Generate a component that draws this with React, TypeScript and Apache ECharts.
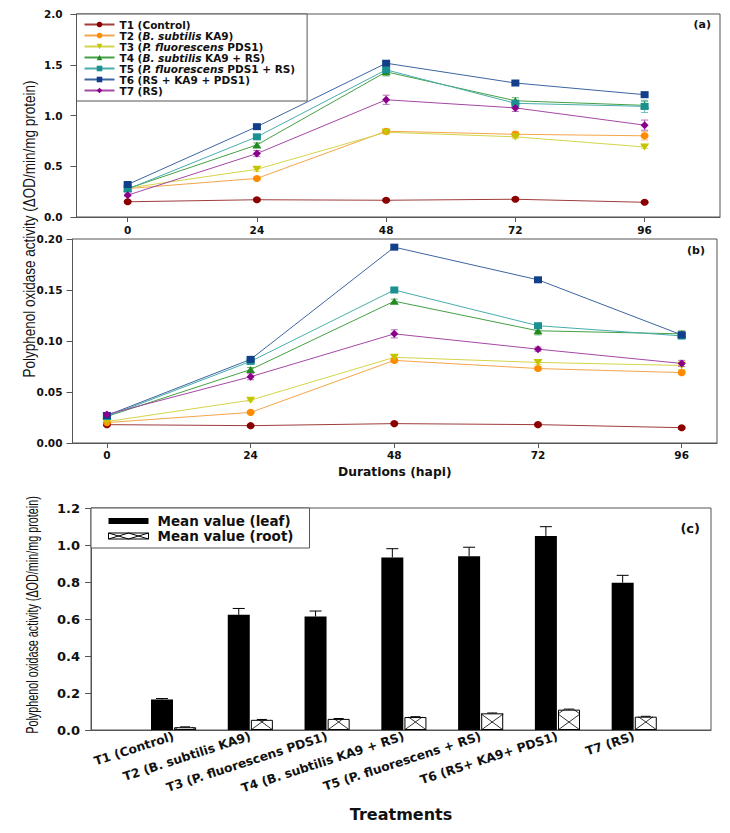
import React, { useEffect, useRef } from 'react';
import * as echarts from 'echarts';

const HOURS = [0, 24, 48, 72, 96];
const TREATMENTS = [
  'T1 (Control)',
  'T2 (B. subtilis KA9)',
  'T3 (P. fluorescens PDS1)',
  'T4 (B. subtilis KA9 + RS)',
  'T5 (P. fluorescens PDS1 + RS)',
  'T6 (RS + KA9 + PDS1)',
  'T7 (RS)',
];
const TREATMENT_RICH = [
  'T1 (Control)',
  'T2 ({i|B. subtilis} KA9)',
  'T3 ({i|P. fluorescens} PDS1)',
  'T4 ({i|B. subtilis} KA9 + RS)',
  'T5 ({i|P. fluorescens} PDS1 + RS)',
  'T6 (RS + KA9 + PDS1)',
  'T7 (RS)',
];

// Panel (a)
const A_T1 = [0.15, 0.17, 0.165, 0.175, 0.145];
const A_T2 = [0.28, 0.38, 0.845, 0.815, 0.8];
const A_T3 = [0.285, 0.47, 0.835, 0.79, 0.69];
const A_T4 = [0.28, 0.71, 1.43, 1.145, 1.1];
const A_T5 = [0.275, 0.79, 1.45, 1.12, 1.09];
const A_T6 = [0.32, 0.89, 1.515, 1.32, 1.205];
const A_T7 = [0.215, 0.625, 1.155, 1.075, 0.905];
const A_ERR_T1 = [0.01, 0.01, 0.01, 0.01, 0.01];
const A_ERR_T2 = [0.01, 0.015, 0.02, 0.03, 0.04];
const A_ERR_T3 = [0.01, 0.02, 0.02, 0.02, 0.015];
const A_ERR_T4 = [0.01, 0.02, 0.04, 0.03, 0.04];
const A_ERR_T5 = [0.015, 0.02, 0.045, 0.03, 0.06];
const A_ERR_T6 = [0.015, 0.01, 0.015, 0.015, 0.025];
const A_ERR_T7 = [0.01, 0.03, 0.045, 0.035, 0.05];

// Panel (b)
const B_T1 = [0.018, 0.017, 0.019, 0.018, 0.015];
const B_T2 = [0.02, 0.03, 0.081, 0.073, 0.069];
const B_T3 = [0.021, 0.042, 0.084, 0.079, 0.076];
const B_T4 = [0.026, 0.072, 0.139, 0.11, 0.107];
const B_T5 = [0.026, 0.08, 0.15, 0.115, 0.105];
const B_T6 = [0.027, 0.082, 0.192, 0.16, 0.106];
const B_T7 = [0.028, 0.065, 0.107, 0.092, 0.078];
const B_ERR_T1 = [0.001, 0.001, 0.001, 0.001, 0.001];
const B_ERR_T2 = [0.001, 0.001, 0.002, 0.002, 0.002];
const B_ERR_T3 = [0.001, 0.001, 0.002, 0.002, 0.004];
const B_ERR_T4 = [0.001, 0.002, 0.002, 0.004, 0.003];
const B_ERR_T5 = [0.001, 0.002, 0.002, 0.002, 0.003];
const B_ERR_T6 = [0.002, 0.002, 0.002, 0.002, 0.003];
const B_ERR_T7 = [0.001, 0.003, 0.004, 0.002, 0.003];

// Panel (c)
const BAR_CATEGORIES = [
  'T1 (Control)',
  'T2 (B. subtilis KA9)',
  'T3 (P. fluorescens PDS1)',
  'T4 (B. subtilis KA9 + RS)',
  'T5 (P. fluorescens + RS)',
  'T6 (RS+ KA9+ PDS1)',
  'T7 (RS)',
];
const BAR_POS = [1, 2, 3, 4, 5, 6, 7];
const LEAF_MEAN = [0.165, 0.623, 0.613, 0.933, 0.939, 1.049, 0.796];
const LEAF_ERR = [0.005, 0.034, 0.03, 0.047, 0.049, 0.05, 0.04];
const ROOT_MEAN = [0.015, 0.055, 0.06, 0.07, 0.09, 0.11, 0.072];
const ROOT_ERR = [0.002, 0.002, 0.002, 0.002, 0.002, 0.003, 0.002];

const MARK = ['#8b0000', '#ff8c00', '#c4c400', '#228b22', '#1a9090', '#123f8a', '#8b008b'];
const LINE = ['#a03c3c', '#f4a64a', '#d4d44a', '#45a045', '#4aacac', '#3c66a0', '#a448a4'];
const SYMBOLS = ['circle', 'circle', 'triangle', 'triangle', 'rect', 'rect', 'diamond'];
const SYM_ROT = [0, 0, 180, 0, 0, 0, 0];

const FB = 'DejaVu Sans';
const FR = 'Liberation Sans';
const AXC = '#555';

export default function App() {
  const ref = useRef<HTMLDivElement>(null);
  useEffect(() => {
    document.body.style.margin = '0';
    if (!ref.current) return;
    const chart = echarts.init(ref.current, null, { renderer: 'svg', width: 730, height: 833 });

    const A = [A_T1, A_T2, A_T3, A_T4, A_T5, A_T6, A_T7];
    const AE = [A_ERR_T1, A_ERR_T2, A_ERR_T3, A_ERR_T4, A_ERR_T5, A_ERR_T6, A_ERR_T7];
    const B = [B_T1, B_T2, B_T3, B_T4, B_T5, B_T6, B_T7];
    const BE = [B_ERR_T1, B_ERR_T2, B_ERR_T3, B_ERR_T4, B_ERR_T5, B_ERR_T6, B_ERR_T7];

    const lineSeries = (vals: number[][], idx: number) =>
      vals.map((v, i) => ({
        type: 'line',
        name: TREATMENTS[i],
        xAxisIndex: idx,
        yAxisIndex: idx,
        data: HOURS.map((h, j) => [h, v[j]]),
        symbol: SYMBOLS[i],
        symbolRotate: SYM_ROT[i],
        symbolSize: SYMBOLS[i] === 'triangle' ? [9, 7] : SYMBOLS[i] === 'diamond' ? [8, 8] : [8, 7],
        itemStyle: { color: MARK[i] },
        lineStyle: { color: LINE[i], width: 1 },
        emphasis: { disabled: true },
        z: 3,
      }));

    const errData = (vals: number[][], errs: number[][]) => {
      const out: number[][] = [];
      vals.forEach((v, i) => v.forEach((y, j) => out.push([HOURS[j], y, errs[i][j], i])));
      return out;
    };

    const errRender = (params: any, api: any) => {
      const x = api.value(0);
      const y = api.value(1);
      const e = api.value(2);
      const ci = api.value(3);
      const p1 = api.coord([x, y + e]);
      const p2 = api.coord([x, y - e]);
      const w = 3.5;
      const style = { stroke: LINE[ci], lineWidth: 1, opacity: 0.8 };
      return {
        type: 'group',
        children: [
          { type: 'line', shape: { x1: p1[0], y1: p1[1], x2: p2[0], y2: p2[1] }, style },
          { type: 'line', shape: { x1: p1[0] - w, y1: p1[1], x2: p1[0] + w, y2: p1[1] }, style },
          { type: 'line', shape: { x1: p2[0] - w, y1: p2[1], x2: p2[0] + w, y2: p2[1] }, style },
        ],
      };
    };

    const BW = 22;
    const GAP = 0.05;
    const half = (BW * 2 + BW * GAP) / 2;

    const barErrRender = (side: number) => (params: any, api: any) => {
      const k = api.value(0);
      const v = api.value(1);
      const e = api.value(2);
      const pTop = api.coord([k, v + e]);
      const pBar = api.coord([k, v]);
      const cx = side < 0 ? pBar[0] - half + BW / 2 : pBar[0] + half - BW / 2;
      const w = side < 0 ? 6 : 5;
      const style = { stroke: '#000', lineWidth: 1 };
      return {
        type: 'group',
        children: [
          { type: 'line', shape: { x1: cx, y1: pBar[1], x2: cx, y2: pTop[1] }, style },
          { type: 'line', shape: { x1: cx - w, y1: pTop[1], x2: cx + w, y2: pTop[1] }, style },
        ],
      };
    };

    const hatchRender = (params: any, api: any) => {
      const k = api.value(0);
      const v = api.value(1);
      const base = api.coord([k, 0]);
      const top = api.coord([k, v]);
      const x0 = base[0] + half - BW;
      const x1 = x0 + BW;
      const yb = base[1];
      const yt = top[1];
      const H = 16;
      const style = { stroke: '#000', lineWidth: 0.8 };
      const clip = (xa: number, ya: number, xc: number, yc: number) => {
        if (yc < yt) {
          const t = (ya - yt) / (ya - yc);
          xc = xa + (xc - xa) * t;
          yc = yt;
        }
        return { x1: xa, y1: ya, x2: xc, y2: yc };
      };
      const children: any[] = [];
      for (let r = 0; yb - r * H > yt + 0.5; r++) {
        const ya = yb - r * H;
        const yc = ya - H;
        children.push({ type: 'line', shape: clip(x0, ya, x1, yc), style });
        children.push({ type: 'line', shape: clip(x1, ya, x0, yc), style });
      }
      return { type: 'group', children };
    };

    const tickLabel = { fontFamily: FB, fontWeight: 'bold', fontSize: 10.5, color: '#111' };
    const tickLabelC = { fontFamily: FB, fontWeight: 'bold', fontSize: 13, color: '#111' };
    const axLine = { show: true, onZero: false, lineStyle: { color: AXC } };

    const option: any = {
      animation: false,
      grid: [
        { left: 76.5, top: 14, width: 643.5, height: 203, show: true, borderColor: AXC, borderWidth: 1 },
        { left: 72.5, top: 239, width: 644.5, height: 204, show: true, borderColor: AXC, borderWidth: 1 },
        { left: 91, top: 508, width: 620, height: 222, show: true, borderColor: AXC, borderWidth: 1 },
      ],
      xAxis: [
        {
          gridIndex: 0, type: 'value', min: -9.5, max: 110,
          axisLine: axLine,
          axisTick: { customValues: HOURS, length: 5, lineStyle: { color: AXC } },
          axisLabel: { customValues: HOURS, margin: 7, ...tickLabel },
          splitLine: { show: false },
        },
        {
          gridIndex: 1, type: 'value', min: -5.75, max: 101.9,
          axisLine: axLine,
          axisTick: { customValues: HOURS, length: 5, lineStyle: { color: AXC } },
          axisLabel: { customValues: HOURS, margin: 6, ...tickLabel },
          splitLine: { show: false },
          name: 'Durations (hapi)', nameLocation: 'middle', nameGap: 23,
          nameTextStyle: { fontFamily: FB, fontWeight: 'bold', fontSize: 12.3, color: '#111' },
        },
        {
          gridIndex: 2, type: 'value', min: -0.075, max: 8,
          axisLine: axLine,
          axisTick: { show: false },
          axisLabel: {
            customValues: BAR_POS, rotate: 18, margin: 6, ...tickLabelC, fontSize: 12.3,
            formatter: (v: number) => BAR_CATEGORIES[Math.round(v) - 1] || '',
          },
          splitLine: { show: false },
          name: 'Treatments', nameLocation: 'middle', nameGap: 76,
          nameTextStyle: { fontFamily: FB, fontWeight: 'bold', fontSize: 16, color: '#111' },
        },
      ],
      yAxis: [
        {
          gridIndex: 0, type: 'value', min: 0, max: 2, interval: 0.5,
          axisLine: axLine,
          axisTick: { show: true, length: 6, lineStyle: { color: AXC } },
          axisLabel: { margin: 14, formatter: (v: number) => v.toFixed(1), ...tickLabel },
          splitLine: { show: false },
        },
        {
          gridIndex: 1, type: 'value', min: 0, max: 0.2, interval: 0.05,
          axisLine: axLine,
          axisTick: { show: true, length: 6, lineStyle: { color: AXC } },
          axisLabel: { margin: 10, formatter: (v: number) => v.toFixed(2), ...tickLabel },
          splitLine: { show: false },
        },
        {
          gridIndex: 2, type: 'value', min: 0, max: 1.2, interval: 0.2,
          axisLine: axLine,
          axisTick: { show: true, length: 6, lineStyle: { color: AXC } },
          axisLabel: { margin: 11, formatter: (v: number) => v.toFixed(1), ...tickLabelC },
          splitLine: { show: false },
        },
      ],
      legend: [
        {
          data: TREATMENTS,
          orient: 'vertical', left: 76.5, top: 14,
          itemWidth: 30, itemHeight: 7, itemGap: 0,
          padding: [5, 12, 5, 7],
          backgroundColor: '#fff', borderColor: AXC, borderWidth: 1,
          selectedMode: false,
          formatter: (name: string) => TREATMENT_RICH[TREATMENTS.indexOf(name)],
          textStyle: {
            fontFamily: FB, fontWeight: 'bold', fontSize: 10.5, lineHeight: 10.6, color: '#111',
            rich: {
              i: { fontFamily: FB, fontWeight: 'bold', fontStyle: 'italic', fontSize: 10.5, lineHeight: 10.6, color: '#111' },
            },
          },
        },
        {
          data: [
            { name: 'Mean value (leaf)', icon: 'rect', itemStyle: { color: '#000' } },
            {
              name: 'Mean value (root)',
              icon: 'path://M0,0L40,0L40,6L0,6ZM0,0L20,6L40,0M0,6L20,0L40,6',
              itemStyle: { color: '#fff', borderColor: '#000', borderWidth: 1 },
            },
          ],
          orient: 'vertical', left: 91, top: 508,
          itemWidth: 40, itemHeight: 6, itemGap: 1,
          padding: [6, 16, 5, 17],
          backgroundColor: '#fff', borderColor: AXC, borderWidth: 1,
          selectedMode: false,
          textStyle: { fontFamily: FB, fontWeight: 'bold', fontSize: 13.5, lineHeight: 11, color: '#111', padding: [0, 0, 0, 4] },
        },
      ],
      series: [
        ...lineSeries(A, 0),
        ...lineSeries(B, 1),
        {
          type: 'custom', name: 'errA', xAxisIndex: 0, yAxisIndex: 0,
          data: errData(A, AE), encode: { x: 0, y: 1 }, renderItem: errRender, z: 2, silent: true,
        },
        {
          type: 'custom', name: 'errB', xAxisIndex: 1, yAxisIndex: 1,
          data: errData(B, BE), encode: { x: 0, y: 1 }, renderItem: errRender, z: 2, silent: true,
        },
        {
          type: 'bar', name: 'Mean value (leaf)', xAxisIndex: 2, yAxisIndex: 2,
          data: BAR_POS.map((p, i) => [p, LEAF_MEAN[i]]),
          barWidth: BW, barGap: '5%',
          itemStyle: { color: '#000' },
          emphasis: { disabled: true },
        },
        {
          type: 'bar', name: 'Mean value (root)', xAxisIndex: 2, yAxisIndex: 2,
          data: BAR_POS.map((p, i) => [p, ROOT_MEAN[i]]),
          barWidth: BW, barGap: '5%',
          itemStyle: { color: '#fff', borderColor: '#000', borderWidth: 1 },
          emphasis: { disabled: true },
        },
        {
          type: 'custom', name: 'hatch', xAxisIndex: 2, yAxisIndex: 2,
          data: BAR_POS.map((p, i) => [p, ROOT_MEAN[i]]), encode: { x: 0, y: 1 },
          renderItem: hatchRender, z: 3, silent: true,
        },
        {
          type: 'custom', name: 'errLeaf', xAxisIndex: 2, yAxisIndex: 2,
          data: BAR_POS.map((p, i) => [p, LEAF_MEAN[i], LEAF_ERR[i]]), encode: { x: 0, y: 1 },
          renderItem: barErrRender(-1), z: 3, silent: true,
        },
        {
          type: 'custom', name: 'errRoot', xAxisIndex: 2, yAxisIndex: 2,
          data: BAR_POS.map((p, i) => [p, ROOT_MEAN[i], ROOT_ERR[i]]), encode: { x: 0, y: 1 },
          renderItem: barErrRender(1), z: 3, silent: true,
        },
      ],
      graphic: [
        {
          type: 'text', x: 30, y: 229, rotation: Math.PI / 2, scaleY: 1.2,
          style: {
            text: 'Polyphenol oxidase activity (ΔOD/min/mg protein)',
            fontFamily: FR, fontSize: 13.5, fill: '#111', align: 'center', verticalAlign: 'middle',
          },
        },
        {
          type: 'text', x: 33, y: 615, rotation: Math.PI / 2, scaleY: 1.45,
          style: {
            text: 'Polyphenol oxidase activity (ΔOD/min/mg protein)',
            fontFamily: FR, fontSize: 10.8, fill: '#111', align: 'center', verticalAlign: 'middle',
          },
        },
        {
          type: 'text', x: 711, y: 24,
          style: { text: '(a)', fontFamily: FB, fontWeight: 'bold', fontSize: 11, fill: '#111', align: 'right', verticalAlign: 'middle' },
        },
        {
          type: 'text', x: 705, y: 250,
          style: { text: '(b)', fontFamily: FB, fontWeight: 'bold', fontSize: 11, fill: '#111', align: 'right', verticalAlign: 'middle' },
        },
        {
          type: 'text', x: 700, y: 528,
          style: { text: '(c)', fontFamily: FB, fontWeight: 'bold', fontSize: 13, fill: '#111', align: 'right', verticalAlign: 'middle' },
        },
      ],
    };

    chart.setOption(option);
    return () => chart.dispose();
  }, []);

  return <div ref={ref} style={{ width: 730, height: 833 }} />;
}
